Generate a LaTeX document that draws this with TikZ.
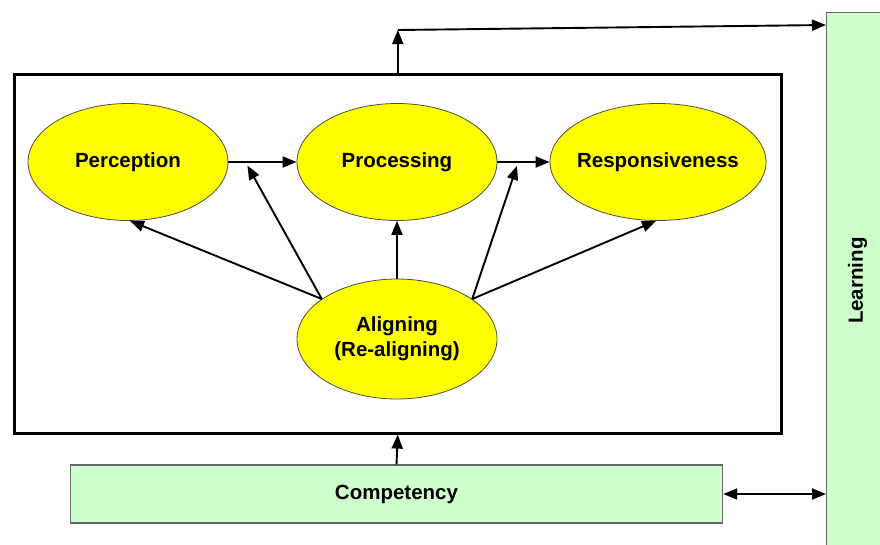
\documentclass[tikz,border=0pt]{standalone}
\usepackage{fontspec}
\setmainfont{Liberation Sans}
\usetikzlibrary{arrows.meta,shapes.geometric}
\definecolor{ovalyellow}{RGB}{255,255,0}
\definecolor{barfill}{RGB}{204,255,204}

\begin{document}
\begin{tikzpicture}[
  x=1pt,y=-1pt,
  >={Triangle[length=14pt,width=11pt]},
  %% Stage nodes: yellow ellipses inside the frame
  stagenode/.style={draw=black!70,line width=0.8pt,ellipse,fill=ovalyellow,
                    minimum width=200pt,minimum height=117pt,inner sep=0pt,
                    align=center,font=\fontsize{20.5}{25}\selectfont\bfseries},
  %% Bar nodes: pale green rectangles
  barnode/.style={draw=black!60,line width=1.4pt,rectangle,fill=barfill,inner sep=0pt,
                  font=\fontsize{20.5}{25}\selectfont\bfseries},
  %% Flow arrows: straight, solid
  flow/.style={->,line width=1.9pt}
]
\useasboundingbox (0,0) rectangle (880,544);

%% ---- OUTER FRAME ----
\node[draw,line width=2.6pt,minimum width=767pt,minimum height=359pt,
      anchor=north west,inner sep=0pt] (frame) at (13,73) {};

%% ---- STAGES ----
\node[stagenode] (perc)  at (128,162) {Perception};
\node[stagenode] (proc)  at (397,162) {Processing};
\node[stagenode,minimum width=216pt,inner xsep=-5pt] (resp) at (658,162) {Responsiveness};
\node[stagenode,minimum height=120pt] (align) at (397,339) {Aligning\\(Re-aligning)};

%% ---- BARS ----
\node[barnode,minimum width=652pt,minimum height=58pt] (comp) at (396.5,494) {Competency};
\node[barnode,minimum width=62pt,minimum height=536pt,anchor=north west] (learn) at (826,12) {};
\node[rotate=90,font=\fontsize{20.5}{25}\selectfont\bfseries] (learntext) at (learn.center) {Learning};

%% ---- STAGE FLOW ----
\draw[flow] (perc.east) -- coordinate[pos=0.25] (pp) (proc.west);
\draw[flow] (proc.east) -- coordinate[pos=0.4] (pr) (resp.west);

%% ---- ALIGNING -> STAGES ----
\draw[flow] (align.152) -- (perc.-88);
\draw[flow,shorten >=4pt] (align.152) -- (pp);
\draw[flow] (align.north) -- (proc.south);
\draw[flow,shorten >=4pt] (align.28) -- (pr);
\draw[flow] (align.28) -- (resp.-92);

%% ---- FRAME, COMPETENCY, LEARNING ----
\draw[flow] (comp.north) -- (frame.south);
\draw[flow] (frame.north) -- ++(0,-43) coordinate (up);
\draw[flow] (up) -- ([yshift=-13pt]learn.north west);
\draw[flow,<->] (comp.east) -- (comp.east -| learn.west);

\end{tikzpicture}
\end{document}
